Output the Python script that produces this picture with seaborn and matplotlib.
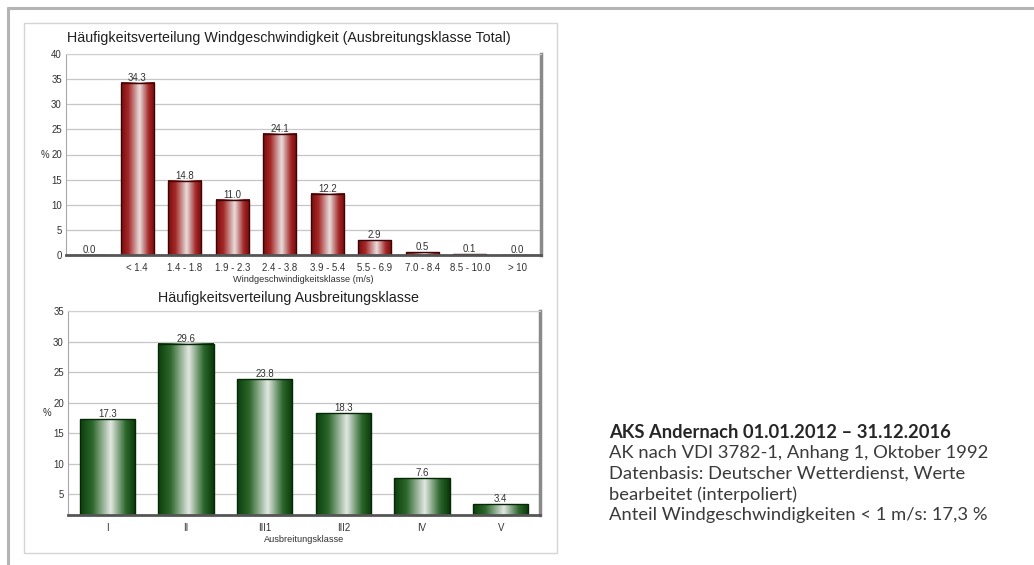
import numpy as np
import matplotlib
matplotlib.use("Agg")
import matplotlib.pyplot as plt
import seaborn as sns
from matplotlib.colors import LinearSegmentedColormap
from matplotlib.patches import Rectangle
from matplotlib.lines import Line2D
from matplotlib.ticker import MultipleLocator

sns.set_style("white")
plt.rcParams["font.family"] = ["Liberation Sans", "DejaVu Sans"]

# Windgeschwindigkeitsklassen (oben)
wind_klassen = ["", "< 1.4", "1.4 - 1.8", "1.9 - 2.3", "2.4 - 3.8", "3.9 - 5.4",
                "5.5 - 6.9", "7.0 - 8.4", "8.5 - 10.0", "> 10"]
wind_werte = [0.0, 34.3, 14.8, 11.0, 24.1, 12.2, 2.9, 0.5, 0.1, 0.0]

# Ausbreitungsklassen (unten)
ak_klassen = ["I", "II", "III1", "III2", "IV", "V"]
ak_werte = [17.3, 29.6, 23.8, 18.3, 7.6, 3.4]

titel_oben = "Häufigkeitsverteilung Windgeschwindigkeit (Ausbreitungsklasse Total)"
titel_unten = "Häufigkeitsverteilung Ausbreitungsklasse"
xlabel_oben = "Windgeschwindigkeitsklasse (m/s)"
xlabel_unten = "Ausbreitungsklasse"

info_titel = "AKS Andernach 01.01.2012 – 31.12.2016"
info_zeilen = ["AK nach VDI 3782-1, Anhang 1, Oktober 1992",
               "Datenbasis: Deutscher Wetterdienst, Werte",
               "bearbeitet (interpoliert)",
               "Anteil Windgeschwindigkeiten < 1 m/s: 17,3 %"]

W, H = 1034, 565
fig = plt.figure(figsize=(W / 100, H / 100), dpi=100)


def fx(px):
    return px / W


def fy(py):
    return 1 - py / H


# Rahmen
fig.add_artist(Line2D([fx(8), 1], [fy(8), fy(8)], color="#b4b4b4", lw=2.2))
fig.add_artist(Line2D([fx(8), fx(8)], [0, fy(8)], color="#b4b4b4", lw=2.2))
fig.add_artist(Rectangle((fx(24), fy(553)), fx(557) - fx(24), fy(23) - fy(553),
                         transform=fig.transFigure, fill=False, ec="#d4d4d4", lw=1))

ax1 = fig.add_axes([fx(66), fy(255), fx(541) - fx(66), fy(54) - fy(255)])
ax2 = fig.add_axes([fx(68), fy(515), fx(540) - fx(68), fy(311) - fy(515)])

rot = LinearSegmentedColormap.from_list("rot", [(0, "#7a0c0c"), (0.22, "#a52828"),
                                                (0.55, "#e9dede"), (0.82, "#a32626"),
                                                (1, "#760a0a")])
gruen = LinearSegmentedColormap.from_list("gruen", [(0, "#0b3d0b"), (0.22, "#2c672c"),
                                                    (0.55, "#e2e8e2"), (0.82, "#2c672c"),
                                                    (1, "#093709")])


def zeichne(ax, klassen, werte, cmap, kante, ylim, ymaj, xlabel):
    sns.barplot(x=klassen, y=werte, order=klassen, ax=ax, width=0.7,
                color="#800000", edgecolor=kante, linewidth=1.0, zorder=3)
    grad = np.linspace(0, 1, 256).reshape(1, -1)
    for p in ax.patches:
        x, y, w, h = p.get_x(), p.get_y(), p.get_width(), p.get_height()
        if h > 0:
            im = ax.imshow(grad, extent=[x, x + w, y, y + h], cmap=cmap,
                           aspect="auto", zorder=2.5, interpolation="bicubic")
            im.set_clip_path(p)
            im.set_clip_box(ax.bbox)
        p.set_facecolor("none")
    ax.set_xlim(-0.5, len(klassen) - 0.5)
    ax.set_ylim(*ylim)
    ax.bar_label(ax.containers[0], fmt="%.1f", fontsize=6.9, color="#303030", padding=0)

    ax.yaxis.set_major_locator(MultipleLocator(ymaj))
    ax.yaxis.set_minor_locator(MultipleLocator(1))
    ax.grid(axis="y", which="major", color="#c6c6c6", lw=0.9, zorder=0)
    ax.tick_params(axis="y", which="major", labelsize=6.9, length=4, direction="inout",
                   color="#a0a0a0", labelcolor="#303030", pad=1)
    ax.tick_params(axis="y", which="minor", length=2.5, direction="in", color="#b0b0b0")
    ax.tick_params(axis="x", labelsize=6.9, length=6, direction="inout", color="#707070",
                   labelcolor="#303030", pad=3)
    ax.set_xlabel(xlabel, fontsize=6.6, color="#303030", labelpad=1)
    ax.set_ylabel("%", rotation=0, fontsize=6.9, color="#303030", va="center")
    ax.yaxis.set_label_coords(-0.044, 0.5)

    ax.spines["top"].set_color("#d0d0d0")
    ax.spines["left"].set_color("#a8a8a8")
    ax.spines["bottom"].set_color("#555555")
    ax.spines["bottom"].set_linewidth(2.0)
    ax.spines["right"].set_color("#8a8a8a")
    ax.spines["right"].set_linewidth(2.5)
    for s in ax.spines.values():
        s.set_zorder(4)


zeichne(ax1, wind_klassen, wind_werte, rot, "#3a0505", (0, 40), 5, xlabel_oben)
zeichne(ax2, ak_klassen, ak_werte, gruen, "#062806", (1.6, 35), 5, xlabel_unten)

fig.text(fx(289), fy(38), titel_oben, ha="center", va="center", fontsize=10.3, color="#202020")
fig.text(fx(288), fy(298), titel_unten, ha="center", va="center", fontsize=10.3, color="#202020")

fig.text(fx(609), fy(432), info_titel, ha="left", va="center", fontsize=13.2,
         fontweight="bold", color="#262626", family=["Lato", "DejaVu Sans"])
for i, zeile in enumerate(info_zeilen):
    fig.text(fx(609), fy(453 + 20.8 * i), zeile, ha="left", va="center", fontsize=13.2,
             color="#3a3a3a", family=["Lato", "DejaVu Sans"])

fig.savefig("out.png", dpi=100)
